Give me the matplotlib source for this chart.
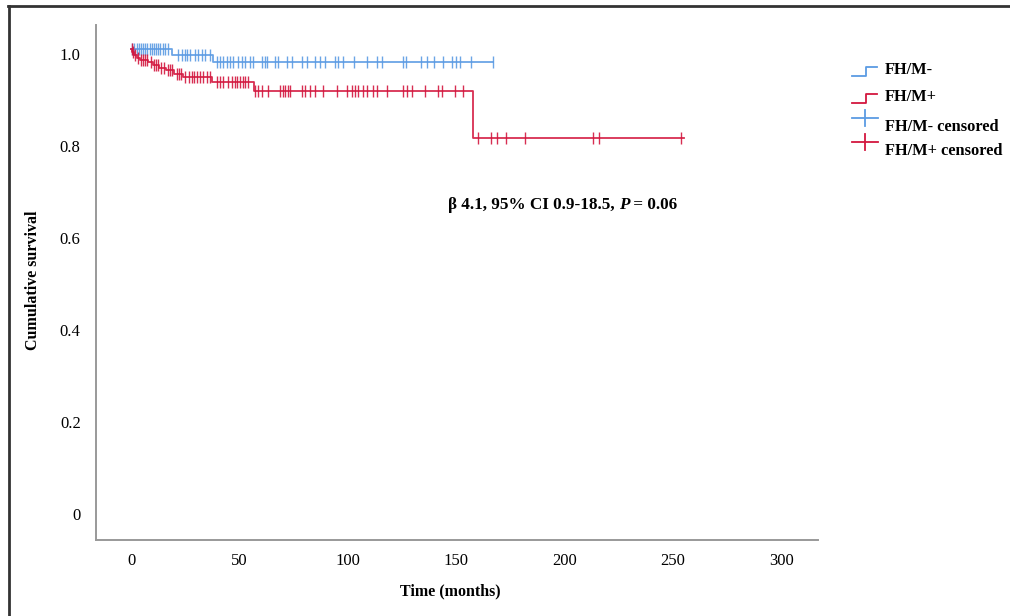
import numpy as np
import matplotlib.pyplot as plt
import matplotlib.transforms as mtransforms
from matplotlib.lines import Line2D

plt.rcParams['font.family'] = ['Liberation Serif', 'DejaVu Serif']

# Kaplan-Meier step data (time in months, survival after the event)
blue_times = [0, 19, 38]
blue_surv = [1.0, 0.987, 0.971]
blue_end = 167

red_times = [0, 0.5, 1.5, 2.5, 4, 8, 10, 13, 16, 20, 24, 37.5, 56.5, 158]
red_surv = [1.0, 0.993, 0.987, 0.98, 0.976, 0.972, 0.965, 0.959, 0.954,
            0.946, 0.939, 0.928, 0.909, 0.807]
red_end = 255

blue_censor = [0.5, 1.5, 2.5, 3.5, 4.5, 5.5, 6.5, 7.5, 8.5, 9.5, 10.5, 11.5,
               12.5, 13.5, 14.5, 15.5, 17, 21.7, 23.5, 24.9, 25.8, 27.2, 29.5,
               30.9, 32.8, 34.2, 36.5, 39.7, 41, 42.5, 44.3, 45.7, 47, 49.4,
               51.2, 52.6, 55, 56.3, 60.5, 61.8, 62.8, 66.5, 67.8, 72, 74.3,
               79, 81.2, 85, 87.2, 89.5, 94, 95.5, 97.8, 103, 109, 113.5, 116,
               125.5, 127, 134, 136.5, 140, 144, 148, 150, 152, 157, 167]
red_censor = [0.3, 1, 2, 3, 4.5, 5.5, 6.5, 7.5, 9, 10.5, 11.5, 12.5, 14, 15,
              17, 18, 19, 21, 22, 23, 25, 26.5, 28, 29, 30.5, 32, 33, 35, 36.5,
              39.7, 41, 42.5, 44.8, 46.6, 48, 49, 50.3, 51.7, 52.6, 54, 57.2,
              58.6, 60.5, 63.2, 68.8, 70.1, 71, 72.4, 73.3, 78.9, 80.3, 82.6,
              84.9, 88.6, 95, 99.7, 102, 103.4, 104.8, 107, 109, 111.7, 113.5,
              118, 125.5, 127.4, 129.7, 135.7, 141.7, 143.5, 149.5, 153, 160,
              166, 169, 173, 182, 213, 216, 254]

x_ticks = [0, 50, 100, 150, 200, 250, 300]
y_ticks = [0, 0.2, 0.4, 0.6, 0.8, 1.0]
y_labels = ['0', '0.2', '0.4', '0.6', '0.8', '1.0']

blue = '#5b9be3'
red = '#d3173f'

W, H = 1010, 616
fig = plt.figure(figsize=(W / 100, H / 100), dpi=100)
ax = fig.add_axes([96 / W, 1 - 540 / H, 722 / W, 515 / H])


def km_plot(times, surv, end, censor, color):
    t = list(times) + [end]
    s = list(surv) + [surv[-1]]
    ax.step(t, s, where='post', color=color, lw=1.3, alpha=0.9)
    idx = np.searchsorted(times, censor, side='right') - 1
    ax.plot(censor, np.array(surv)[idx], ls='none', marker='|',
            ms=8, mew=1.0, color=color, alpha=0.9)


km_plot(blue_times, blue_surv, blue_end, blue_censor, blue)
km_plot(red_times, red_surv, red_end, red_censor, red)

ax.set_xlim(-16.2, 317)
ax.set_ylim(-0.0674, 1.052)
ax.set_xticks(x_ticks)
ax.set_xticklabels([str(v) for v in x_ticks])
ax.set_yticks(y_ticks)
ax.set_yticklabels(y_labels)
ax.tick_params(length=0, labelsize=12)
ax.tick_params(axis='x', pad=9.5)
ax.tick_params(axis='y', pad=11)

for s in ['top', 'right']:
    ax.spines[s].set_visible(False)
for s in ['left', 'bottom']:
    ax.spines[s].set_color('#999999')
    ax.spines[s].set_linewidth(1.4)

shift = mtransforms.ScaledTranslation(0, -0.05, fig.dpi_scale_trans)
for lab in ax.get_yticklabels():
    lab.set_transform(lab.get_transform() + shift)


def fx(px):
    return px / W


def fy(py):
    return 1 - py / H


fig.text(fx(450), fy(591), 'Time (months)', ha='center', va='center',
         fontsize=11.5, fontweight='bold')
fig.text(fx(33), fy(280), 'Cumulative survival', rotation=90,
         ha='center', va='center', fontsize=11.5, fontweight='bold')

# annotation with italic P
fig.canvas.draw()
r = fig.canvas.get_renderer()
x0, yc = fx(448), fy(205)
parts = [('β 4.1, 95% CI 0.9-18.5, ', 'normal'), ('P', 'italic'), (' = 0.06', 'normal')]
for txt, style in parts:
    t = fig.text(x0, yc, txt, ha='left', va='center', fontsize=12.3,
                 fontweight='bold', style=style)
    bb = t.get_window_extent(renderer=r)
    x0 = x0 + bb.width / W

# manual legend
legend_rows = [('FH/M-', blue, 'step', 70), ('FH/M+', red, 'step', 97),
               ('FH/M- censored', blue, 'plus', 127), ('FH/M+ censored', red, 'plus', 151)]
for label, color, kind, ty in legend_rows:
    if kind == 'step':
        lo, hi = ty + 6, ty - 3
        xs = [fx(852), fx(866), fx(866), fx(877)]
        ys = [fy(lo), fy(lo), fy(hi), fy(hi)]
        fig.add_artist(Line2D(xs, ys, transform=fig.transFigure, color=color, lw=1.3))
    else:
        cy = ty - 9
        fig.add_artist(Line2D([fx(852), fx(878)], [fy(cy), fy(cy)],
                              transform=fig.transFigure, color=color, lw=1.3))
        fig.add_artist(Line2D([fx(865), fx(865)], [fy(cy - 8), fy(cy + 8)],
                              transform=fig.transFigure, color=color, lw=1.3))
    fig.text(fx(885), fy(ty), label, ha='left', va='center', fontsize=11.8,
             fontweight='bold')

# frame lines at top and left of the picture
fig.add_artist(Line2D([fx(8), fx(1010)], [fy(6), fy(6)], transform=fig.transFigure,
                      color='#333333', lw=2))
fig.add_artist(Line2D([fx(9), fx(9)], [fy(6), fy(616)], transform=fig.transFigure,
                      color='#333333', lw=2))

fig.savefig('out.png', dpi=100)
